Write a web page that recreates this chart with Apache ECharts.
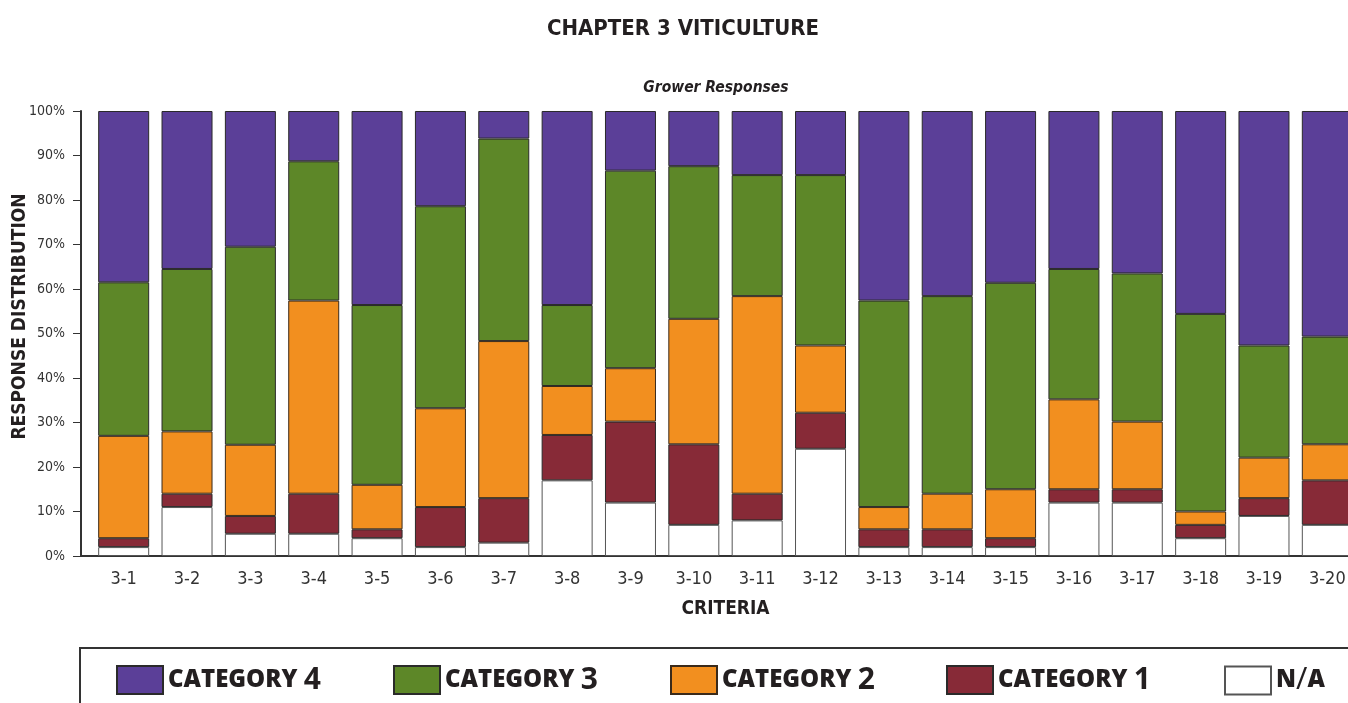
<!DOCTYPE html>
<html>
<head>
<meta charset="utf-8">
<script src="https://cdn.jsdelivr.net/npm/echarts@6/dist/echarts.min.js"></script>
<style>
html,body{margin:0;padding:0;background:#fff;}
#chart{width:1348px;height:703px;}
</style>
</head>
<body>
<div id="chart"></div>
<script>
const categories = ['3-1','3-2','3-3','3-4','3-5','3-6','3-7','3-8','3-9','3-10','3-11','3-12','3-13','3-14','3-15','3-16','3-17','3-18','3-19','3-20'];
const naValues   = [2, 11, 5, 5, 4, 2, 3, 17, 12, 7, 8, 24.1, 2, 2, 2, 12, 12, 4, 9, 7];
const cat1Values = [2, 3, 4, 9, 2, 9, 10, 10.2, 18.2, 18.1, 6, 8.1, 4, 4, 2, 3, 3, 3, 4, 10];
const cat2Values = [23, 14, 16, 43.4, 10, 22.2, 35.3, 11, 12, 28.2, 44.4, 15.1, 5, 8, 11, 20.2, 15.2, 3, 9.1, 8.1];
const cat3Values = [34.5, 36.5, 44.5, 31.3, 40.4, 45.4, 45.5, 18.2, 44.4, 34.3, 27.2, 38.3, 46.4, 44.4, 46.4, 29.3, 33.3, 44.4, 25.2, 24.2];
const cat4Values = [38.5, 35.5, 30.5, 11.3, 43.6, 21.4, 6.2, 43.6, 13.4, 12.4, 14.4, 14.4, 42.6, 41.6, 38.6, 35.5, 36.5, 45.6, 52.7, 50.7];
const yTicks = [0, 10, 20, 30, 40, 50, 60, 70, 80, 90, 100];

const COND = "'Liberation Sans Narrow','DejaVu Sans Condensed','Roboto Condensed','Noto Sans',sans-serif";
const WIDE = "'Open Sans','Noto Sans',sans-serif";

function mkSeries(name, data, color, border) {
  return {
    name: name, type: 'bar', stack: 'all', data: data,
    barWidth: 51,
    itemStyle: { color: color, borderColor: border, borderWidth: 1 },
    emphasis: { disabled: true }
  };
}

const series = [
  mkSeries('N/A', naValues, '#ffffff', '#555555'),
  mkSeries('CATEGORY 1', cat1Values, '#872a37', '#2a2a2a'),
  mkSeries('CATEGORY 2', cat2Values, '#f28f1f', '#3a2a1a'),
  mkSeries('CATEGORY 3', cat3Values, '#5d8728', '#2a2a2a'),
  mkSeries('CATEGORY 4', cat4Values, '#5b3f98', '#2a2a2a')
];

const legendNames = ['CATEGORY 4','CATEGORY 3','CATEGORY 2','CATEGORY 1','N/A'];
const legendLeft = [116, 393, 670, 946, 1224];
const legends = legendNames.map((n, i) => ({
  data: [n], left: legendLeft[i], top: 665, padding: 0,
  itemWidth: 46, itemHeight: 28, itemGap: 6, icon: 'rect',
  selectedMode: false,
  formatter: function (name) {
    const m = name.match(/^(CATEGORY) (\d)$/);
    return m ? '{t|' + m[1] + ' }{n|' + m[2] + '}' : '{t|' + name.split('/').join('}{s|/}{t|') + '}';
  },
  textStyle: {
    padding: [0,0,0,0],
    rich: {
      t: { fontFamily: WIDE, fontWeight: 800, fontSize: 24, color: '#231f20', lineHeight: 30 },
      n: { fontFamily: WIDE, fontWeight: 700, fontSize: 30, color: '#231f20', lineHeight: 30 },
      s: { fontFamily: WIDE, fontWeight: 400, fontSize: 31, color: '#231f20', lineHeight: 30 }
    }
  }
}));

const chart = echarts.init(document.getElementById('chart'), null, { renderer: 'canvas' });
chart.setOption({
  backgroundColor: '#ffffff',
  animation: false,
  title: [
    { text: 'CHAPTER 3 VITICULTURE', left: 678, textAlign: 'center', top: 13,
      textStyle: { fontFamily: COND, fontWeight: 'bold', fontSize: 22, color: '#231f20' } },
    { text: 'Grower Responses', left: 711, textAlign: 'center', top: 75,
      textStyle: { fontFamily: COND, fontWeight: 'bold', fontStyle: 'italic', fontSize: 15.5, color: '#231f20' } }
  ],
  legend: legends,
  grid: { left: 92, right: -11, top: 111, bottom: 147, containLabel: false, outerBoundsMode: 'none' },
  xAxis: {
    type: 'category', data: categories,
    boundaryGap: true,
    name: 'CRITERIA', nameLocation: 'middle', nameGap: 44, nameMoveOverlap: false,
    nameTextStyle: { fontFamily: COND, fontWeight: 'bold', fontSize: 19, color: '#231f20' },
    axisLine: { show: true, lineStyle: { color: '#333', width: 2 } },
    axisTick: { show: false },
    axisLabel: { fontFamily: COND, fontSize: 18, color: '#333', margin: 14 }
  },
  yAxis: {
    type: 'value', min: 0, max: 100, interval: 10,
    offset: 11,
    name: 'RESPONSE DISTRIBUTION', nameLocation: 'middle', nameGap: 51, nameMoveOverlap: false,
    nameTextStyle: { fontFamily: COND, fontWeight: 'bold', fontSize: 19, color: '#231f20', padding: [0,0,0,34] },
    axisLine: { show: true, lineStyle: { color: '#333', width: 2 } },
    axisTick: { show: true, inside: false, length: 8, lineStyle: { color: '#333', width: 1 } },
    splitLine: { show: false },
    axisLabel: { fontFamily: COND, fontSize: 14, color: '#333', margin: 16,
      formatter: function (v) { return yTicks.indexOf(v) >= 0 ? v + '%' : ''; } }
  },
  graphic: [
    { type: 'line', shape: { x1: 80, y1: 556, x2: 93, y2: 556 }, style: { stroke: '#333', lineWidth: 2 }, silent: true },
    { type: 'rect', shape: { x: 80, y: 648, width: 1300, height: 100 }, style: { fill: 'none', stroke: '#333', lineWidth: 2 }, silent: true, z: -1 }
  ],
  series: series
});
</script>
</body>
</html>
